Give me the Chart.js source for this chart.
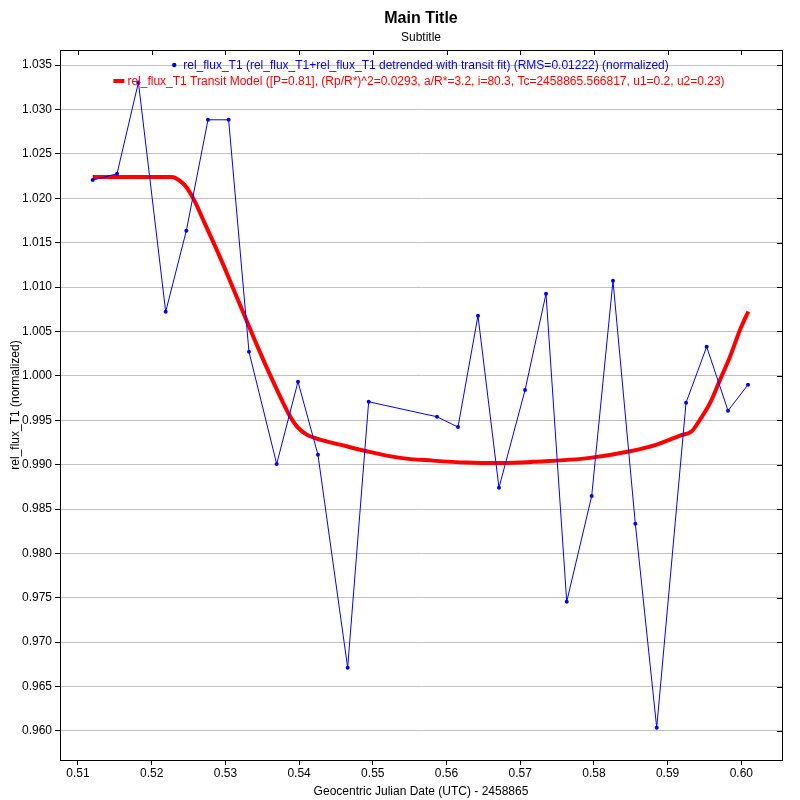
<!DOCTYPE html>
<html>
<head>
<meta charset="utf-8">
<script src="https://cdn.jsdelivr.net/npm/chart.js@4"></script>
<style>
  html, body { margin: 0; padding: 0; background: #fff; }
  #wrap { width: 800px; height: 800px; }
</style>
</head>
<body>
<div id="wrap"><canvas id="chart"></canvas></div>
<script>
// measured flux (blue)
const fluxX = [0.5120, 0.5153, 0.5182, 0.5219, 0.5247, 0.52764, 0.53044, 0.5332, 0.53696, 0.53985,
  0.54256, 0.54659, 0.54944, 0.55871, 0.56156, 0.56427, 0.56712, 0.57066, 0.5735, 0.57631,
  0.5797, 0.58259, 0.58562, 0.58852, 0.5925, 0.5953, 0.5982, 0.60091];
const fluxY = [1.02205, 1.02276, 1.03305, 1.00722, 1.01634, 1.02884, 1.02884, 1.00271, 0.99007, 0.99934,
  0.99111, 0.96713, 0.99708, 0.99539, 0.99423, 1.00677, 0.98740, 0.99840, 1.00925, 0.97456,
  0.98646, 1.01071, 0.98334, 0.96037, 0.99697, 1.00328, 0.99607, 0.99900];

// transit model (red)
const modelX = [0.5120, 0.52275, 0.52384, 0.52479, 0.52588, 0.52723, 0.52859, 0.52995, 0.5313, 0.53266,
  0.53402, 0.53537, 0.53673, 0.53782, 0.53877, 0.53972, 0.54103, 0.54284, 0.54555, 0.54917,
  0.55369, 0.55817, 0.56274, 0.56726, 0.57178, 0.57947, 0.5849, 0.58852, 0.59168, 0.59327,
  0.5944, 0.59576, 0.59712, 0.59848, 0.59983, 0.60095];
const modelY = [1.0224, 1.0224, 1.02195, 1.02116, 1.01959, 1.01711, 1.01464, 1.01205, 1.00935, 1.00665,
  1.00395, 1.00137, 0.99889, 0.99698, 0.99544, 0.99428, 0.99338, 0.99282, 0.99225, 0.9915,
  0.99076, 0.99045, 0.99023, 0.99017, 0.99031, 0.99076, 0.9915, 0.99225, 0.99327, 0.99375,
  0.99507, 0.99695, 0.99957, 1.00219, 1.00519, 1.00725];

const xTicks = [0.51, 0.52, 0.53, 0.54, 0.55, 0.56, 0.57, 0.58, 0.59, 0.60];
const yTicks = [0.960, 0.965, 0.970, 0.975, 0.980, 0.985, 0.990, 0.995, 1.000,
  1.005, 1.010, 1.015, 1.020, 1.025, 1.030, 1.035];

const fluxLabel = 'rel_flux_T1 (rel_flux_T1+rel_flux_T1 detrended with transit fit) (RMS=0.01222) (normalized)';
const modelLabel = 'rel_flux_T1 Transit Model ([P=0.81], (Rp/R*)^2=0.0293, a/R*=3.2, i=80.3, Tc=2458865.566817, u1=0.2, u2=0.23)';

Chart.defaults.font.family = '"Liberation Sans", Arial, sans-serif';
Chart.defaults.font.size = 12;
Chart.defaults.color = '#000';

// legend inside the plot + mirrored ticks and full frame
const frameAndLegend = {
  id: 'frameAndLegend',
  afterDraw(chart) {
    const ctx = chart.ctx;
    const a = chart.chartArea;
    const xs = chart.scales.x, ys = chart.scales.y;
    ctx.save();
    ctx.strokeStyle = '#000';
    ctx.lineWidth = 1;
    ctx.beginPath();
    xs.ticks.forEach(t => {
      const px = Math.round(xs.getPixelForValue(t.value)) + 0.5;
      ctx.moveTo(px, a.top); ctx.lineTo(px, a.top + 5);
    });
    ys.ticks.forEach(t => {
      const py = Math.round(ys.getPixelForValue(t.value)) + 0.5;
      ctx.moveTo(a.right, py); ctx.lineTo(a.right - 5, py);
    });
    ctx.stroke();
    ctx.strokeRect(Math.round(a.left) + 0.5, Math.round(a.top) + 0.5,
      Math.round(a.right - a.left), Math.round(a.bottom - a.top));

    ctx.font = '12px "Liberation Sans", Arial, sans-serif';
    ctx.textBaseline = 'middle';
    const cx = (a.left + a.right) / 2;
    chart.data.datasets.forEach((ds, i) => {
      const y = a.top + 15 + i * 16;
      const w = ctx.measureText(ds.label).width + 14;
      const x0 = cx - w / 2 - 2;
      ctx.fillStyle = ds.borderColor;
      if (ds.pointRadius > 0) {
        ctx.beginPath();
        ctx.arc(x0 + 5, y, 2.2, 0, Math.PI * 2);
        ctx.fill();
      } else {
        ctx.fillRect(x0, y - 2, 11, 4);
      }
      ctx.fillText(ds.label, x0 + 14, y + 1);
    });
    ctx.restore();
  }
};

new Chart(document.getElementById('chart'), {
  type: 'line',
  data: {
    datasets: [
      {
        label: fluxLabel,
        data: fluxX.map((x, i) => ({ x, y: fluxY[i] })),
        borderColor: '#0000ff',
        backgroundColor: '#0000ff',
        borderWidth: 1,
        pointRadius: 2,
        pointBorderWidth: 0,
        pointBackgroundColor: '#0000ff',
        tension: 0,
        order: 0
      },
      {
        label: modelLabel,
        data: modelX.map((x, i) => ({ x, y: modelY[i] })),
        borderColor: '#ff0000',
        backgroundColor: '#ff0000',
        borderWidth: 4,
        pointRadius: 0,
        cubicInterpolationMode: 'monotone',
        order: 1
      }
    ]
  },
  options: {
    responsive: true,
    maintainAspectRatio: false,
    animation: false,
    layout: { padding: { left: 0, right: 18, top: 0, bottom: 0 } },
    plugins: {
      legend: { display: false },
      tooltip: { enabled: false },
      title: {
        display: true,
        text: 'Main Title',
        fullSize: false,
        font: { size: 16, weight: 'bold' },
        padding: { top: 8.5, bottom: 1 }
      },
      subtitle: {
        display: true,
        text: 'Subtitle',
        fullSize: false,
        font: { size: 12 },
        padding: { top: 1.5, bottom: 5.4 }
      }
    },
    scales: {
      x: {
        type: 'linear',
        min: 0.50756,
        max: 0.60552,
        afterBuildTicks: s => { s.ticks = xTicks.map(v => ({ value: v })); },
        afterFit: s => { s.height = 40; },
        ticks: { callback: v => v.toFixed(2), padding: 1, maxRotation: 0, autoSkip: false },
        grid: { drawOnChartArea: false, tickLength: 5, tickColor: '#000' },
        border: { color: '#000', width: 1 },
        title: { display: true, text: 'Geocentric Julian Date (UTC) - 2458865', padding: { top: 0, bottom: 1 } }
      },
      y: {
        type: 'linear',
        min: 0.95673,
        max: 1.0367,
        afterBuildTicks: s => { s.ticks = yTicks.map(v => ({ value: v })); },
        afterFit: s => { s.width = 60; },
        ticks: { callback: v => v.toFixed(3), padding: 3, autoSkip: false },
        grid: { color: '#c0c0c0', lineWidth: 1, tickLength: 5, tickColor: '#000' },
        border: { color: '#000', width: 1 },
        title: { display: true, text: 'rel_flux_T1 (normalized)', padding: { top: 8, bottom: 0 } }
      }
    }
  },
  plugins: [frameAndLegend]
});
</script>
</body>
</html>
